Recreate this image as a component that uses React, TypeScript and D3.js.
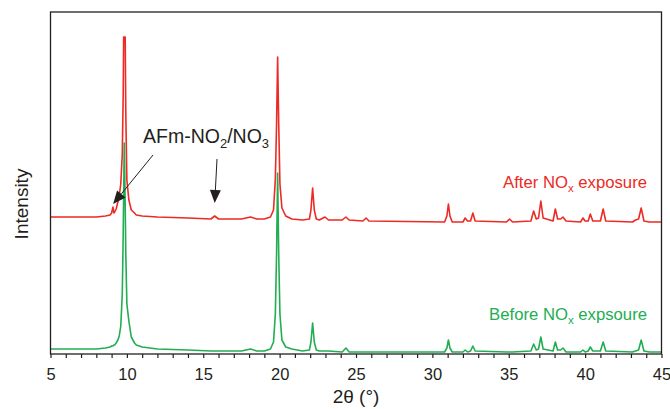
// XRD patterns before / after NOx exposure
import React, { useEffect, useRef } from "react";
import * as d3 from "d3";

// 2θ grid shared by both patterns (°)
const twoTheta = [
  5.0, 6.0, 7.0, 8.0, 8.6, 8.9, 9.0, 9.09, 9.15, 9.2, 9.3, 9.41, 9.5, 9.6, 9.7, 9.76, 9.79, 9.83, 9.89, 9.93,
  10.0, 10.13, 10.29, 10.5, 10.62, 11.0, 12.0, 14.0, 15.5, 15.75, 16.0, 17.5, 18.1, 18.5, 19.0, 19.4, 19.6,
  19.72, 19.8, 19.87, 19.94, 20.02, 20.15, 20.4, 20.8, 21.5, 21.95, 22.05, 22.16, 22.27, 22.4, 22.6, 22.97,
  23.2, 24.1, 24.34, 24.55, 25.45, 25.66, 25.85, 30.8, 30.95, 31.05, 31.15, 31.3, 32.0, 32.15, 32.3, 32.5,
  32.65, 32.8, 34.85, 35.05, 35.25, 36.45, 36.63, 36.8, 36.95, 37.1, 37.25, 37.9, 38.05, 38.2, 38.4, 38.55,
  38.75, 39.7, 39.86, 40.0, 40.2, 40.34, 40.5, 41.0, 41.18, 41.35, 43.1, 43.3, 43.5, 43.67, 43.85, 44.2, 45.0,
];

// Intensity (a.u.) before NOx exposure
const before = [
  5, 5, 5, 5, 6, 7, 8, 8, 9, 9, 11, 14, 18, 28, 60, 120, 160, 211, 150, 100,
  50, 33, 17, 11, 9, 7, 5, 4, 3, 3, 3, 3, 5, 3, 3, 5, 12,
  40, 100, 181, 100, 40, 14, 7, 5, 3, 4, 12, 31, 12, 4, 3, 3,
  3, 2, 6, 2, 2, 2, 2, 2, 6, 14, 6, 2, 2, 4, 2, 3,
  8, 3, 2, 2, 2, 3, 10, 4, 5, 17, 5, 3, 12, 4, 4, 6,
  2, 2, 4, 2, 3, 7, 3, 3, 12, 3, 2, 3, 4, 14, 3, 2, 2,
];

// Intensity (a.u.) after NOx exposure, plotted with a vertical offset
const after = [
  7, 7, 7, 7, 8, 9, 11, 17, 11, 12, 15, 22, 28, 40, 70, 130, 187, 187, 187, 110,
  44, 24, 14, 11, 9, 8, 7, 6, 5, 8, 5, 5, 7, 5, 5, 7, 14,
  45, 100, 167, 100, 40, 16, 8, 5, 4, 5, 14, 36, 14, 5, 4, 7,
  4, 4, 7, 4, 3, 6, 3, 2, 8, 20, 8, 2, 2, 6, 3, 3,
  11, 3, 2, 5, 2, 3, 13, 5, 6, 23, 6, 3, 15, 5, 5, 7,
  3, 2, 6, 3, 3, 10, 3, 3, 15, 3, 2, 4, 5, 16, 3, 2, 2,
];
const afterOffset = 130;

const xMajorTicks = [5, 10, 15, 20, 25, 30, 35, 40, 45];
// arrows marking the AFm-NO2/NO3 reflections: [2θ, intensity]
const arrowTargets = [[9.1, 150], [15.75, 151]];

const RED = "#ed2a24";
const GREEN = "#22ad52";
const INK = "#231f20";
const FONT = "Liberation Sans, Arial, sans-serif";

export default function App() {
  const ref = useRef<SVGSVGElement>(null);

  useEffect(() => {
    const width = 670;
    const height = 409;
    const left = 50.5, right = 661.5, top = 12, bottom = 354;

    const svg = d3.select(ref.current);
    svg.selectAll("*").remove();
    svg.attr("width", width).attr("height", height);

    const x = d3.scaleLinear().domain([5, 45]).range([left, right]);
    const y = d3.scaleLinear().domain([0, bottom - top]).range([bottom, top]);

    const line = d3.line<[number, number]>()
      .x((d) => x(d[0]))
      .y((d) => y(d[1]));

    const afterPts = twoTheta.map((t, i) => [t, after[i] + afterOffset] as [number, number]);
    const beforePts = twoTheta.map((t, i) => [t, before[i]] as [number, number]);

    svg.append("path")
      .datum(afterPts)
      .attr("d", line)
      .attr("fill", "none")
      .attr("stroke", RED)
      .attr("stroke-width", 1.6)
      .attr("stroke-linejoin", "round");

    svg.append("path")
      .datum(beforePts)
      .attr("d", line)
      .attr("fill", "none")
      .attr("stroke", GREEN)
      .attr("stroke-width", 1.6)
      .attr("stroke-linejoin", "round");

    // frame
    svg.append("rect")
      .attr("x", left)
      .attr("y", top)
      .attr("width", right - left)
      .attr("height", bottom - top)
      .attr("fill", "none")
      .attr("stroke", INK)
      .attr("stroke-width", 1.3);

    const xAxis = svg.append("g")
      .attr("transform", `translate(0, ${bottom})`)
      .call(
        d3.axisBottom(x)
          .tickValues(d3.range(5, 46, 1))
          .tickSize(4)
          .tickPadding(10.5)
          .tickFormat((d) => (xMajorTicks.includes(+d) ? String(d) : ""))
      );
    xAxis.select(".domain").remove();
    xAxis.selectAll("line").attr("stroke", INK).attr("stroke-width", 1.2);
    xAxis.selectAll("text")
      .attr("font-family", FONT)
      .attr("font-size", 16.5)
      .attr("fill", INK);

    svg.append("text")
      .attr("x", 356)
      .attr("y", 403)
      .attr("text-anchor", "middle")
      .attr("font-family", FONT)
      .attr("font-size", 19)
      .attr("fill", INK)
      .text("2θ (°)");

    svg.append("text")
      .attr("transform", "translate(27.5, 204) rotate(-90)")
      .attr("text-anchor", "middle")
      .attr("font-family", FONT)
      .attr("font-size", 19)
      .attr("fill", INK)
      .text("Intensity");

    // annotation text with subscripts
    const ann = svg.append("text")
      .attr("x", 143)
      .attr("y", 143)
      .attr("font-family", FONT)
      .attr("font-size", 19.5)
      .attr("fill", INK);
    ann.append("tspan").text("AFm-NO");
    ann.append("tspan").attr("font-size", 13).attr("dy", 5).text("2");
    ann.append("tspan").attr("dy", -5).text("/NO");
    ann.append("tspan").attr("font-size", 13).attr("dy", 5).text("3");

    // arrows
    const starts = [[153, 155], [217, 159]];
    arrowTargets.forEach(([t, v], i) => {
      const tx = x(t), ty = y(v);
      const [sx, sy] = starts[i];
      const ang = Math.atan2(ty - sy, tx - sx);
      const hl = 13, hw = 5.5;
      const bx = tx - hl * Math.cos(ang), by = ty - hl * Math.sin(ang);
      svg.append("line")
        .attr("x1", sx).attr("y1", sy)
        .attr("x2", bx).attr("y2", by)
        .attr("stroke", INK)
        .attr("stroke-width", 1);
      const px = -Math.sin(ang) * hw, py = Math.cos(ang) * hw;
      svg.append("polygon")
        .attr("points", `${tx},${ty} ${bx + px},${by + py} ${bx - px},${by - py}`)
        .attr("fill", INK);
    });

    svg.append("text")
      .attr("x", 647)
      .attr("y", 188)
      .attr("text-anchor", "end")
      .attr("font-family", FONT)
      .attr("font-size", 16.7)
      .attr("fill", RED)
      .call((t) => {
        t.append("tspan").text("After NO");
        t.append("tspan").attr("font-size", 11.5).attr("dy", 4).text("x");
        t.append("tspan").attr("dy", -4).text(" exposure");
      });

    svg.append("text")
      .attr("x", 647)
      .attr("y", 320)
      .attr("text-anchor", "end")
      .attr("font-family", FONT)
      .attr("font-size", 16.7)
      .attr("fill", GREEN)
      .call((t) => {
        t.append("tspan").text("Before NO");
        t.append("tspan").attr("font-size", 11.5).attr("dy", 4).text("x");
        t.append("tspan").attr("dy", -4).text(" expsoure");
      });
  }, []);

  return (
    <svg
      ref={ref}
      style={{ position: "fixed", left: 0, top: 0, display: "block", background: "#fff" }}
    />
  );
}
